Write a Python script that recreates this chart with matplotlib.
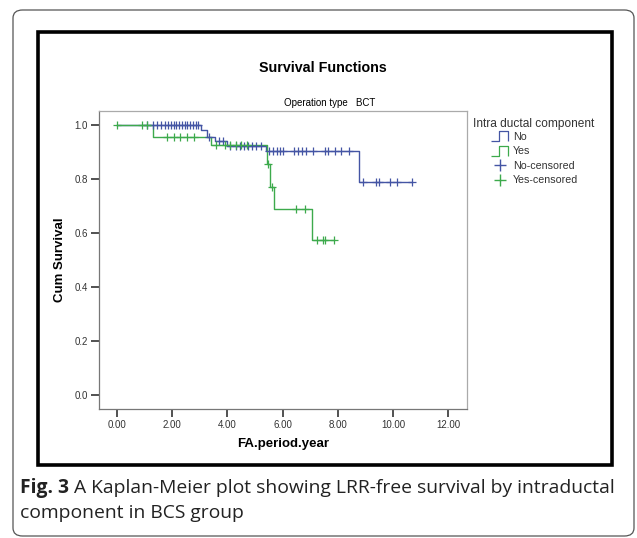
import numpy as np
import matplotlib
matplotlib.use("Agg")
import matplotlib.pyplot as plt
from matplotlib.patches import Rectangle, FancyBboxPatch
from matplotlib.lines import Line2D
from matplotlib.path import Path

plt.rcParams['font.family'] = ['Liberation Sans', 'DejaVu Sans']

# Kaplan-Meier steps
no_times = [0.0, 3.05, 3.25, 3.55, 4.0, 5.4, 8.75, 10.7]
no_surv = [1.0, 0.98, 0.955, 0.94, 0.922, 0.903, 0.79, 0.79]
no_cens = [1.1, 1.3, 1.45, 1.6, 1.75, 1.85, 1.95, 2.05, 2.15, 2.25, 2.35, 2.45,
           2.55, 2.65, 2.75, 2.85, 2.95, 3.35, 3.7, 3.85, 4.1, 4.3, 4.45, 4.6,
           4.75, 4.9, 5.05, 5.2, 5.5, 5.65, 5.8, 5.9, 6.0, 6.4, 6.55, 6.7, 6.85,
           7.1, 7.55, 7.65, 7.9, 8.1, 8.4, 8.9, 9.4, 9.5, 9.9, 10.15, 10.7]

yes_times = [0.0, 1.3, 3.4, 5.42, 5.55, 5.68, 7.05, 7.85]
yes_surv = [1.0, 0.955, 0.925, 0.855, 0.77, 0.689, 0.574, 0.574]
yes_cens = [0.0, 0.9, 1.1, 1.8, 2.05, 2.3, 2.55, 2.8, 3.6, 3.9, 4.1, 4.3,
            4.5, 4.7, 5.48, 5.6, 6.5, 6.8, 7.25, 7.45, 7.55, 7.85]

blue = '#4455a4'
green = '#3daa4c'


def surv_at(times, surv, t):
    idx = np.searchsorted(times, t, side='right') - 1
    return np.array(surv)[idx]


fig = plt.figure(figsize=(6.37, 5.38), dpi=100)

# outer rounded frame and thick black frame
fig.patches.append(FancyBboxPatch((13 / 637, 1 - 536 / 538), 621 / 637, 526 / 538,
                                  boxstyle="round,pad=0,rounding_size=0.015",
                                  transform=fig.transFigure, fill=False,
                                  ec='#555555', lw=0.9))
fig.patches.append(Rectangle((38 / 637, 1 - 465 / 538), 574 / 637, 433 / 538,
                             transform=fig.transFigure, fill=False,
                             ec='black', lw=2.6))

ax = fig.add_axes([99 / 637, 1 - 409 / 538, 368 / 637, 298 / 538])

ax.step(no_times, no_surv, where='post', color=blue, lw=1.0)
ax.step(yes_times, yes_surv, where='post', color=green, lw=1.0)
ax.plot(no_cens, surv_at(no_times, no_surv, no_cens), ls='none', marker='+',
        color=blue, ms=6, mew=0.9)
ax.plot(yes_cens, surv_at(yes_times, yes_surv, yes_cens), ls='none', marker='+',
        color=green, ms=6, mew=0.9)

ax.set_xlim(-0.65, 12.68)
ax.set_ylim(-0.052, 1.052)
ax.set_xticks(np.arange(0, 13, 2))
ax.set_xticklabels(['%.2f' % v for v in np.arange(0, 13, 2)])
ax.set_yticks(np.arange(0, 1.01, 0.2))
ax.set_yticklabels(['%.1f' % v for v in np.arange(0, 1.01, 0.2)])
ax.tick_params(labelsize=7, colors='#333333', length=6, width=1.2, pad=2)
ax.tick_params(top=False, right=False)
for s in ax.spines.values():
    s.set_color('#777777')
    s.set_linewidth(0.9)
ax.spines['top'].set_color('#aaaaaa')
ax.spines['right'].set_color('#aaaaaa')
ax.set_xlabel('FA.period.year', fontsize=9.5, fontweight='bold', labelpad=6)
ax.set_ylabel('Cum Survival', fontsize=9.5, fontweight='bold', labelpad=6)

fig.text(323 / 637, 1 - 68 / 538, 'Survival Functions', ha='center', va='center',
         fontsize=10.3, fontweight='bold')
fig.text(330 / 637, 1 - 103 / 538, 'Operation type   BCT', ha='center', va='center',
         fontsize=7)

# legend: title as text, entries indented below it
fig.text(473 / 637, 1 - 124 / 538, 'Intra ductal component', ha='left', va='center',
         fontsize=8.6, color='#333333')
step_path = Path([(-1, -0.6), (-0.1, -0.6), (-0.1, 0.6), (0.9, 0.6), (0.9, -0.6)])
handles = [
    Line2D([], [], ls='none', marker=step_path, ms=13, mfc='none', mec=blue, mew=0.9),
    Line2D([], [], ls='none', marker=step_path, ms=13, mfc='none', mec=green, mew=0.9),
    Line2D([], [], ls='none', marker='+', ms=9, color=blue, mew=1.0),
    Line2D([], [], ls='none', marker='+', ms=9, color=green, mew=1.0),
]
leg = fig.legend(handles, ['No', 'Yes', 'No-censored', 'Yes-censored'],
                 loc='upper left', bbox_to_anchor=(493 / 637, 1 - 132 / 538),
                 frameon=False, fontsize=7.7, handlelength=1.3,
                 handletextpad=0.55, labelspacing=0.42, borderpad=0.0,
                 borderaxespad=0.0, labelcolor='#333333')

# caption
cap_font = ['Open Sans', 'DejaVu Sans']
t1 = fig.text(20 / 637, 1 - 488 / 538, 'Fig. 3', fontsize=13.9, fontweight='bold',
              family=cap_font, va='center', color='#222222')
fig.canvas.draw()
bb = t1.get_window_extent()
fig.text((bb.x1 + 5) / 637, 1 - 488 / 538,
         'A Kaplan-Meier plot showing LRR-free survival by intraductal',
         fontsize=13.9, family=cap_font, va='center', color='#222222')
fig.text(20 / 637, 1 - 513 / 538, 'component in BCS group', fontsize=13.9,
         family=cap_font, va='center', color='#222222')

fig.savefig('out.png', dpi=100)
